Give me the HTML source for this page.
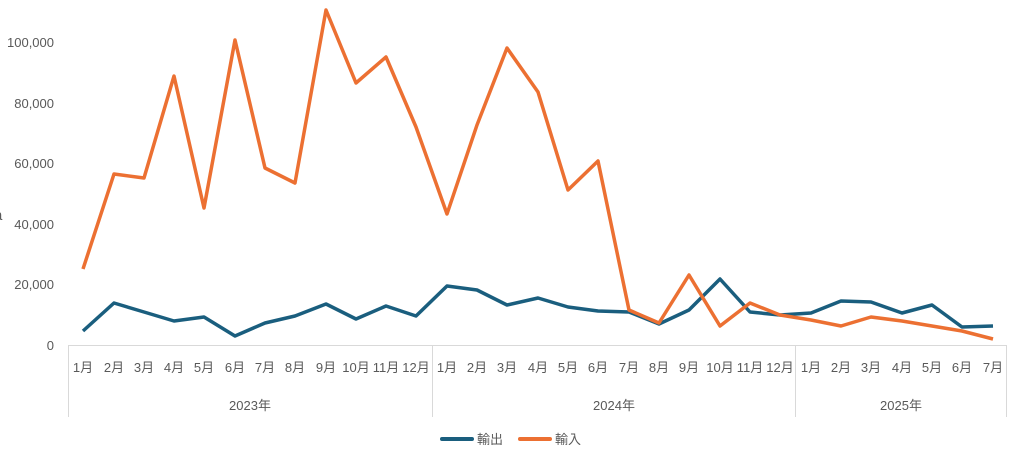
<!DOCTYPE html>
<html><head><meta charset="utf-8"><style>
body{margin:0;background:#fff;}
svg text{font-family:"Liberation Sans","Noto Sans CJK JP",sans-serif;fill:#595959;font-size:13px;}
</style></head><body>
<svg width="1012" height="445" viewBox="0 0 1012 445" xmlns="http://www.w3.org/2000/svg">
<g text-anchor="end">
<text x="54" y="350">0</text>
<text x="54" y="289">20,000</text>
<text x="54" y="229">40,000</text>
<text x="54" y="168">60,000</text>
<text x="54" y="108">80,000</text>
<text x="54" y="47">100,000</text>
</g>
<text x="-6" y="220" style="font-size:15px">a</text>
<g stroke="#d9d9d9" stroke-width="1" fill="none">
<line x1="68" y1="345.5" x2="1007" y2="345.5"/>
<line x1="68.5" y1="346" x2="68.5" y2="417"/>
<line x1="432.5" y1="346" x2="432.5" y2="417"/>
<line x1="795.5" y1="346" x2="795.5" y2="417"/>
<line x1="1006.5" y1="346" x2="1006.5" y2="417"/>
</g>
<g text-anchor="middle" id="m"></g>
<g text-anchor="middle">
<text x="250" y="410">2023年</text>
<text x="614" y="410">2024年</text>
<text x="901" y="410">2025年</text>
</g>
<polyline fill="none" stroke="#1a5e7e" stroke-width="3.5" stroke-linejoin="round" points="83,331 114,303 144,312 174,321 204,317 235,336 265,323 295,316 326,304 356,319 386,306 416,316 447,286 477,290 507,305 538,298 568,307 598,311 629,312 659,324 689,310 720,279 750,312 780,315 811,313 841,301 871,302 902,313 932,305 962,327 993,326"/>
<polyline fill="none" stroke="#ec7032" stroke-width="3.5" stroke-linejoin="round" points="83,269 114,174 144,178 174,76 204,208 235,40 265,168 295,183 326,10 356,83 386,57 416,127 447,214 477,125 507,48 538,92 568,190 598,161 629,310 659,323 689,275 720,326 750,303 780,315 811,320 841,326 871,317 902,321 932,326 962,331 993,339"/>
<line x1="442" y1="439" x2="472" y2="439" stroke="#1a5e7e" stroke-width="4" stroke-linecap="round"/>
<text x="477" y="444">輸出</text>
<line x1="520" y1="439" x2="550" y2="439" stroke="#ec7032" stroke-width="4" stroke-linecap="round"/>
<text x="555" y="444">輸入</text>
<g text-anchor="middle">
<text x="83" y="372">1月</text><text x="114" y="372">2月</text><text x="144" y="372">3月</text><text x="174" y="372">4月</text><text x="204" y="372">5月</text><text x="235" y="372">6月</text><text x="265" y="372">7月</text><text x="295" y="372">8月</text><text x="326" y="372">9月</text><text x="356" y="372">10月</text><text x="386" y="372">11月</text><text x="416" y="372">12月</text>
<text x="447" y="372">1月</text><text x="477" y="372">2月</text><text x="507" y="372">3月</text><text x="538" y="372">4月</text><text x="568" y="372">5月</text><text x="598" y="372">6月</text><text x="629" y="372">7月</text><text x="659" y="372">8月</text><text x="689" y="372">9月</text><text x="720" y="372">10月</text><text x="750" y="372">11月</text><text x="780" y="372">12月</text>
<text x="811" y="372">1月</text><text x="841" y="372">2月</text><text x="871" y="372">3月</text><text x="902" y="372">4月</text><text x="932" y="372">5月</text><text x="962" y="372">6月</text><text x="993" y="372">7月</text>
</g>
</svg>
</body></html>
